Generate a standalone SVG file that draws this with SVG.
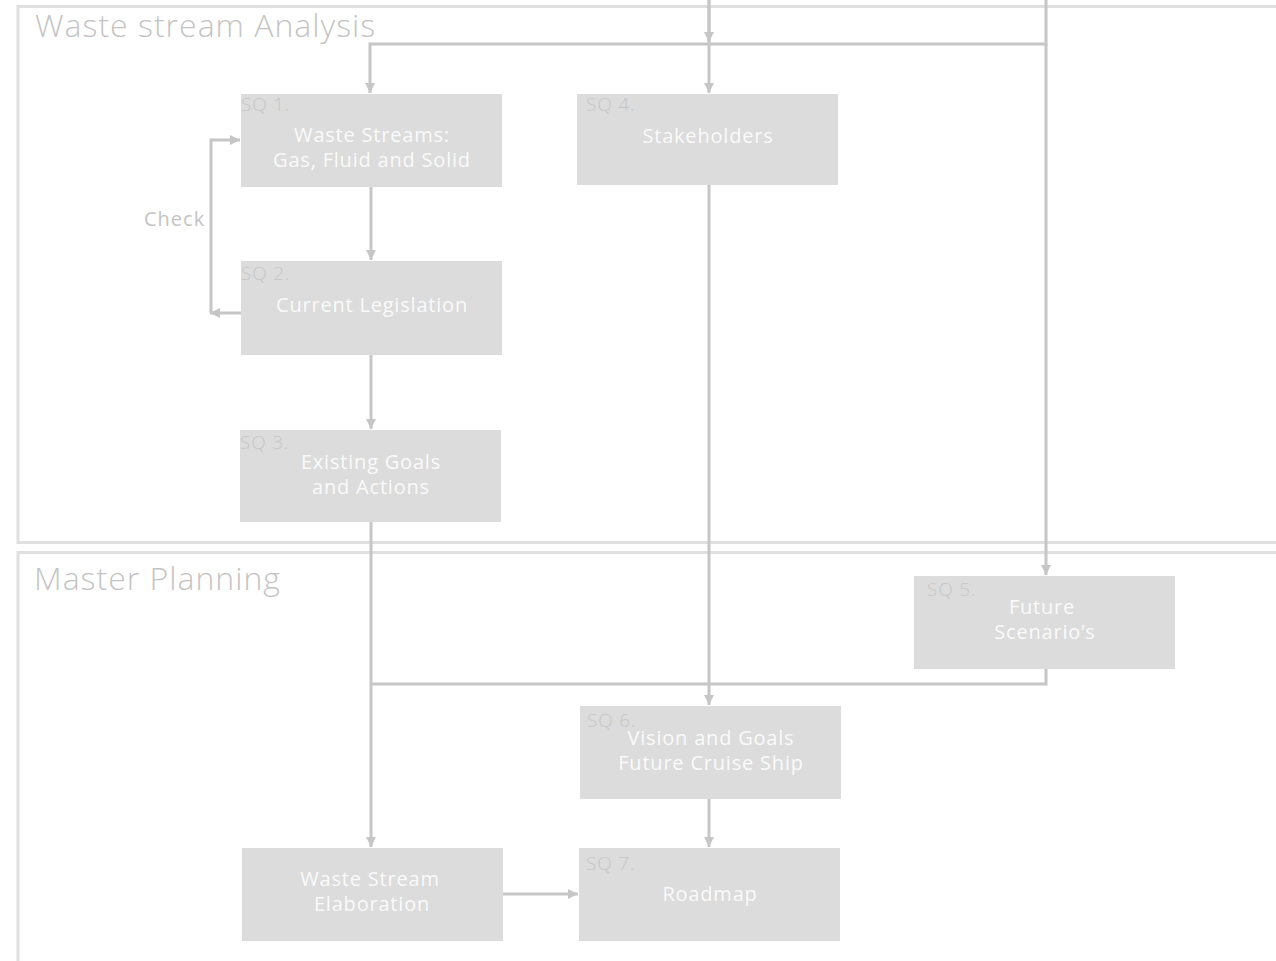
<svg xmlns="http://www.w3.org/2000/svg" width="1276" height="961" viewBox="0 0 1276 961">
<defs>
<marker id="ah" viewBox="0 0 10 10" refX="10" refY="5" markerWidth="10" markerHeight="10" markerUnits="userSpaceOnUse" orient="auto">
<path d="M0,0 L10,5 L0,10 Z" fill="#c6c6c6"/>
</marker>
</defs>
<style>
.frame{fill:none;stroke:#e0e0e0;stroke-width:3}
.title{font-family:"Open Sans","Liberation Sans",sans-serif;font-size:32px;font-weight:300;fill:#c4c4c4;letter-spacing:1px}
.box{fill:#dcdcdc}
.sq{font-family:"Open Sans","Liberation Sans",sans-serif;font-size:19px;font-weight:300;fill:#c6c6c6;letter-spacing:0.8px}
.lbl{font-family:"Open Sans","Liberation Sans",sans-serif;font-size:20px;fill:#fafafa;text-anchor:middle;letter-spacing:0.8px}
.con{fill:none;stroke:#c6c6c6;stroke-width:3}
.chk{font-family:"Open Sans","Liberation Sans",sans-serif;font-size:20px;fill:#c4c4c4;letter-spacing:1px}
</style>
<rect width="1276" height="961" fill="#ffffff"/>
<g id="frame-analysis">
<rect class="frame" x="18" y="6.5" width="1270" height="536"/>
<text class="title" x="35" y="37">Waste stream Analysis</text>
</g>
<g id="frame-planning">
<rect class="frame" x="18" y="552.5" width="1270" height="420"/>
<text class="title" x="34" y="590">Master Planning</text>
</g>
<g id="connectors">
<path class="con" d="M709,0 V44"/>
<path class="con" d="M1046,0 V44 H370 V93" marker-end="url(#ah)"/>
<path class="con" d="M709,0 V42" marker-end="url(#ah)"/>
<path class="con" d="M709,44 V93" marker-end="url(#ah)"/>
<path class="con" d="M1046,44 V575" marker-end="url(#ah)"/>
<path class="con" d="M371,187 V260" marker-end="url(#ah)"/>
<path class="con" d="M371,355 V429" marker-end="url(#ah)"/>
<path class="con" d="M241,313 H210" marker-end="url(#ah)"/>
<path class="con" d="M211,313 V140 H240" marker-end="url(#ah)"/>
<path class="con" d="M371,522 V847" marker-end="url(#ah)"/>
<path class="con" d="M709,185 V705" marker-end="url(#ah)"/>
<path class="con" d="M1046,669 V684 H371"/>
<path class="con" d="M709,799 V847" marker-end="url(#ah)"/>
<path class="con" d="M503,894 H578" marker-end="url(#ah)"/>
<text class="chk" x="144" y="226">Check</text>
</g>
<g id="sq1">
<rect class="box" x="241" y="94" width="261" height="93"/>
<text class="sq" x="241" y="111">SQ 1.</text>
<text class="lbl" x="372" y="142">Waste Streams:</text>
<text class="lbl" x="372" y="167">Gas, Fluid and Solid</text>
</g>
<g id="sq2">
<rect class="box" x="241" y="261" width="261" height="94"/>
<text class="sq" x="241" y="280">SQ 2.</text>
<text class="lbl" x="372" y="312">Current Legislation</text>
</g>
<g id="sq3">
<rect class="box" x="240" y="430" width="261" height="92"/>
<text class="sq" x="240" y="449">SQ 3.</text>
<text class="lbl" x="371" y="469">Existing Goals</text>
<text class="lbl" x="371" y="494">and Actions</text>
</g>
<g id="sq4">
<rect class="box" x="577" y="94" width="261" height="91"/>
<text class="sq" x="586" y="111">SQ 4.</text>
<text class="lbl" x="708" y="143">Stakeholders</text>
</g>
<g id="sq5">
<rect class="box" x="914" y="576" width="261" height="93"/>
<text class="sq" x="927" y="596">SQ 5.</text>
<text class="lbl" x="1042" y="614">Future</text>
<text class="lbl" x="1045" y="639">Scenario’s</text>
</g>
<g id="sq6">
<rect class="box" x="580" y="706" width="261" height="93"/>
<text class="sq" x="587" y="727">SQ 6.</text>
<text class="lbl" x="711" y="745">Vision and Goals</text>
<text class="lbl" x="711" y="770">Future Cruise Ship</text>
</g>
<g id="wse">
<rect class="box" x="242" y="848" width="261" height="93"/>
<text class="lbl" x="370" y="886">Waste Stream</text>
<text class="lbl" x="372" y="911">Elaboration</text>
</g>
<g id="sq7">
<rect class="box" x="579" y="848" width="261" height="93"/>
<text class="sq" x="586" y="870">SQ 7.</text>
<text class="lbl" x="710" y="901">Roadmap</text>
</g>
</svg>
